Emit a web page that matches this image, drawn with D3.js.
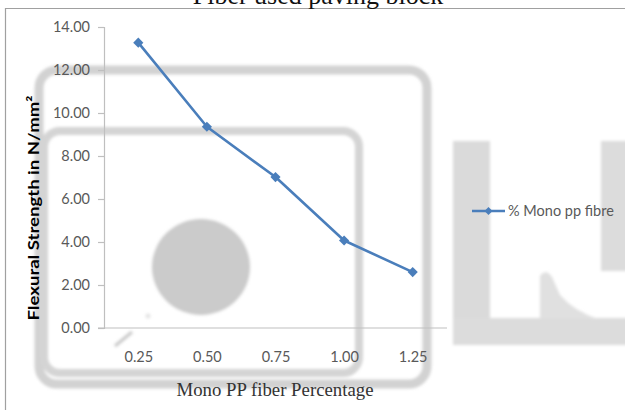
<!DOCTYPE html>
<html>
<head>
<meta charset="utf-8">
<script src="https://cdn.jsdelivr.net/npm/d3@7"></script>
<style>
  html, body { margin: 0; padding: 0; background: #fff; }
  svg { display: block; }
</style>
</head>
<body>
<svg id="chart" width="625" height="410"></svg>
<script>
// Flexural strength of paving blocks versus mono PP fibre dosage
const categories = ["0.25", "0.50", "0.75", "1.00", "1.25"];
const strength = [13.27, 9.36, 7.02, 4.07, 2.60];
const yTicks = [0, 2, 4, 6, 8, 10, 12, 14];
const seriesName = "% Mono pp fibre";
const titleText = "Fiber used paving block";
const xTitle = "Mono PP fiber Percentage";
const yTitle = "Flexural Strength in N/mm²";

const svg = d3.select("#chart");
const W = 625, H = 410;
const plot = { left: 104, right: 447, top: 27, bottom: 328 };
const lineColor = "#4a7ebb";
const labelColor = "#595959";
const sans = "Lato, 'Open Sans', sans-serif";
const serif = "'Liberation Serif', 'DejaVu Serif', serif";

const defs = svg.append("defs");
defs.append("filter").attr("id", "soft")
  .attr("x", "-10%").attr("y", "-10%").attr("width", "120%").attr("height", "120%")
  .append("feGaussianBlur").attr("stdDeviation", 1.6);

// Faint logo watermark behind the plot
const mark = svg.append("g").attr("filter", "url(#soft)");
mark.append("rect").attr("x", 39).attr("y", 70).attr("width", 388).attr("height", 314)
  .attr("rx", 18).attr("fill", "none").attr("stroke", "#d2d2d2").attr("stroke-width", 9);
mark.append("rect").attr("x", 44).attr("y", 131).attr("width", 315).attr("height", 242)
  .attr("rx", 16).attr("fill", "none").attr("stroke", "#d4d4d4").attr("stroke-width", 8);
mark.append("ellipse").attr("cx", 201).attr("cy", 267).attr("rx", 49).attr("ry", 48)
  .attr("fill", "#cbcbcb");
mark.append("line").attr("x1", 115).attr("y1", 346).attr("x2", 132).attr("y2", 332)
  .attr("stroke", "#c8c8c8").attr("stroke-width", 3);
mark.append("circle").attr("cx", 148).attr("cy", 316).attr("r", 2.5).attr("fill", "#e4e4e4");
mark.append("rect").attr("x", 453).attr("y", 141).attr("width", 37).attr("height", 204)
  .attr("fill", "#dadada");
mark.append("rect").attr("x", 453).attr("y", 318).attr("width", 180).attr("height", 27)
  .attr("fill", "#dcdcdc");
mark.append("rect").attr("x", 601).attr("y", 141).attr("width", 30).attr("height", 130)
  .attr("fill", "#dcdcdc");
mark.append("path")
  .attr("d", "M540,319 L540,276 Q546,268 552,277 L560,295 Q574,311 598,319 Z")
  .attr("fill", "#e0e0e0");

// Chart frame
svg.append("path").attr("d", `M5.5,${H + 5} L5.5,8.5 L${W + 5},8.5`)
  .attr("fill", "none").attr("stroke", "#a0a0a0").attr("stroke-width", 1.2);

// Title (runs above the frame edge)
svg.append("text").attr("x", 318).attr("y", 4)
  .attr("text-anchor", "middle").attr("font-family", serif).attr("font-size", 26)
  .attr("fill", "#111").text(titleText);

// Scales
const x = d3.scalePoint().domain(categories).range([plot.left, plot.right]).padding(0.5);
const y = d3.scaleLinear().domain([0, 14]).range([plot.bottom, plot.top]);

// Y axis
const yAxis = svg.append("g").attr("transform", `translate(${plot.left},0)`)
  .call(d3.axisLeft(y).tickValues(yTicks).tickFormat(d3.format(".2f")).tickSize(6).tickPadding(8));
yAxis.select(".domain").attr("stroke", "#bfbfbf").attr("stroke-width", 1.2);
yAxis.selectAll(".tick line").attr("stroke", "#bfbfbf").attr("stroke-width", 1.2);
yAxis.selectAll(".tick text").attr("font-family", sans).attr("font-size", 14.5)
  .attr("fill", labelColor);

// X axis (category axis without tick marks)
const xAxis = svg.append("g").attr("transform", `translate(0,${plot.bottom})`)
  .call(d3.axisBottom(x).tickSize(0).tickPadding(24));
xAxis.select(".domain").attr("stroke", "#bfbfbf").attr("stroke-width", 1.2)
  .attr("d", `M${plot.left - 6},0H${plot.right}`);
xAxis.selectAll(".tick text").attr("font-family", sans).attr("font-size", 14.5)
  .attr("fill", labelColor);

// Axis titles
svg.append("text").attr("x", 275).attr("y", 396).attr("text-anchor", "middle")
  .attr("font-family", serif).attr("font-size", 19).attr("fill", "#333")
  .attr("textLength", 197).attr("lengthAdjust", "spacingAndGlyphs").text(xTitle);
svg.append("text").attr("transform", "translate(39,208) rotate(-90)")
  .attr("text-anchor", "middle").attr("font-family", sans).attr("font-weight", 700)
  .attr("font-size", 15.5).attr("fill", "#000")
  .attr("textLength", 225).attr("lengthAdjust", "spacingAndGlyphs").text(yTitle);

// Series line and diamond markers
const pts = categories.map((c, i) => [x(c), y(strength[i])]);
svg.append("path").datum(pts).attr("d", d3.line())
  .attr("fill", "none").attr("stroke", lineColor).attr("stroke-width", 2.6)
  .attr("stroke-linejoin", "round");
const diamond = d3.symbol().type(d3.symbolDiamond2).size(66);
svg.append("g").selectAll("path").data(pts).join("path")
  .attr("transform", d => `translate(${d[0]},${d[1]})`)
  .attr("d", diamond).attr("fill", lineColor);

// Legend
const lg = svg.append("g").attr("transform", "translate(472,211)");
lg.append("line").attr("x1", 0).attr("x2", 33).attr("stroke", lineColor).attr("stroke-width", 2.6);
lg.append("path").attr("transform", "translate(16.5,0)")
  .attr("d", d3.symbol().type(d3.symbolDiamond2).size(40)).attr("fill", lineColor);
lg.append("text").attr("x", 36).attr("y", 0).attr("dy", "0.35em")
  .attr("font-family", sans).attr("font-size", 14.5).attr("fill", labelColor)
  .text(seriesName);
</script>
</body>
</html>
